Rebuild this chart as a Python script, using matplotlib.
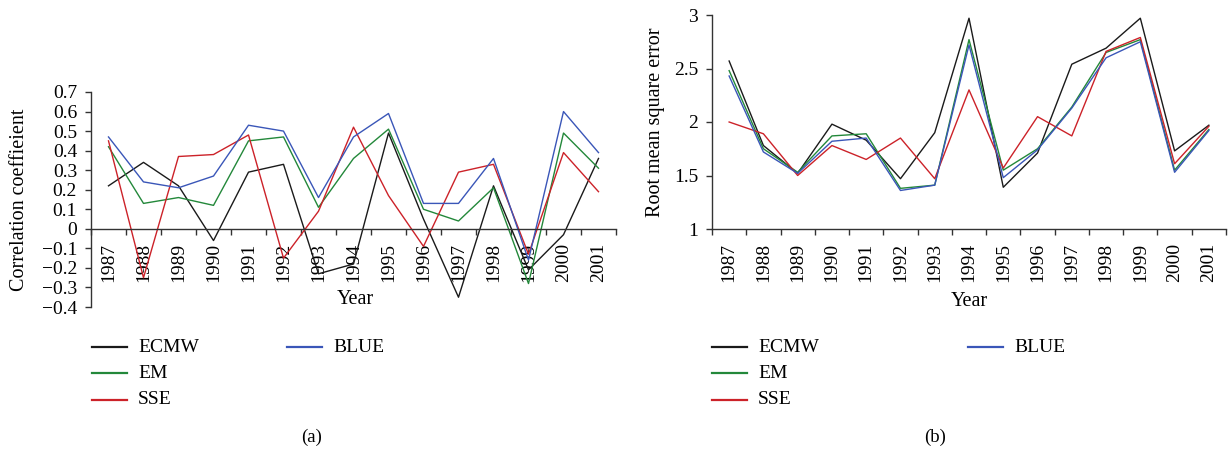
import matplotlib
matplotlib.use("Agg")
import matplotlib.pyplot as plt
from matplotlib.lines import Line2D
import numpy as np

plt.rcParams['font.family'] = ['Liberation Serif', 'DejaVu Serif']

years = [str(y) for y in range(1987, 2002)]
series_names = ["ECMW", "EM", "SSE", "BLUE"]
colors = {"ECMW": "#1a1a1a", "EM": "#23883a", "SSE": "#cc2229", "BLUE": "#3a56b8"}

# (a) Correlation coefficient
corr_ecmw = [0.22, 0.34, 0.22, -0.06, 0.29, 0.33, -0.23, -0.18, 0.49, 0.05, -0.35, 0.22, -0.21, -0.03, 0.36]
corr_em   = [0.42, 0.13, 0.16, 0.12, 0.45, 0.47, 0.11, 0.36, 0.51, 0.10, 0.04, 0.21, -0.28, 0.49, 0.31]
corr_sse  = [0.45, -0.25, 0.37, 0.38, 0.48, -0.15, 0.09, 0.52, 0.17, -0.09, 0.29, 0.33, -0.13, 0.39, 0.19]
corr_blue = [0.47, 0.24, 0.21, 0.27, 0.53, 0.50, 0.16, 0.47, 0.59, 0.13, 0.13, 0.36, -0.16, 0.60, 0.39]

# (b) Root mean square error
rmse_ecmw = [2.57, 1.78, 1.52, 1.98, 1.83, 1.47, 1.90, 2.97, 1.39, 1.71, 2.54, 2.69, 2.97, 1.73, 1.97]
rmse_em   = [2.48, 1.75, 1.53, 1.87, 1.89, 1.38, 1.41, 2.77, 1.55, 1.75, 2.14, 2.65, 2.77, 1.55, 1.93]
rmse_sse  = [2.00, 1.89, 1.50, 1.78, 1.65, 1.85, 1.47, 2.30, 1.57, 2.05, 1.87, 2.66, 2.79, 1.61, 1.96]
rmse_blue = [2.43, 1.72, 1.52, 1.82, 1.85, 1.36, 1.41, 2.72, 1.48, 1.74, 2.13, 2.60, 2.75, 1.53, 1.92]

corr = {"ECMW": corr_ecmw, "EM": corr_em, "SSE": corr_sse, "BLUE": corr_blue}
rmse = {"ECMW": rmse_ecmw, "EM": rmse_em, "SSE": rmse_sse, "BLUE": rmse_blue}

W, H = 1228, 449
fig = plt.figure(figsize=(W / 100, H / 100), dpi=100)

def fx(px):
    return px / W

def fy(py):
    return 1 - py / H

ax1 = fig.add_axes([fx(91), fy(307), fx(616) - fx(91), fy(92) - fy(307)])
ax2 = fig.add_axes([fx(712), fy(229), fx(1226) - fx(712), fy(15) - fy(229)])

TICK_FS = 14
LAB_FS = 14.5

def fmt(v):
    if abs(v) < 1e-9:
        return "0"
    s = ("%g" % round(v, 2))
    return s.replace("-", "\u2212")

x = np.arange(len(years))
for ax, data, ylim, yticks, base in [
    (ax1, corr, (-0.4, 0.7), np.round(np.arange(-0.4, 0.71, 0.1), 1), 0.0),
    (ax2, rmse, (1, 3), [1, 1.5, 2, 2.5, 3], 1.0),
]:
    for name in ["ECMW", "EM", "SSE", "BLUE"]:
        ax.plot(x, data[name], color=colors[name], lw=1.0, label=name)
    ax.set_xlim(-0.5, len(years) - 0.5)
    ax.set_ylim(*ylim)
    for s in ["top", "right"]:
        ax.spines[s].set_visible(False)
    ax.spines["bottom"].set_position(("data", base))
    for s in ["left", "bottom"]:
        ax.spines[s].set_color("#333333")
        ax.spines[s].set_linewidth(1.0)
    ax.set_xticks(np.arange(-0.5, len(years), 1.0))
    ax.set_xticklabels([])
    ax.set_xticks(x, minor=True)
    ax.set_xticklabels(years, minor=True, rotation=90, fontsize=TICK_FS)
    ax.tick_params(axis="x", which="major", direction="out", length=4, width=1.0, color="#333333")
    ax.tick_params(axis="x", which="minor", length=0, pad=10)
    ax.set_yticks(yticks)
    ax.set_yticklabels([fmt(v) for v in yticks], fontsize=TICK_FS)
    ax.tick_params(axis="y", direction="out", length=4, width=1.0, color="#333333", pad=6)

ax1.set_ylabel("Correlation coeffieient", fontsize=LAB_FS)
ax1.yaxis.set_label_coords((29 - 91) / 525, 0.5)
ax2.set_ylabel("Root mean square error", fontsize=LAB_FS)
ax2.yaxis.set_label_coords((665 - 712) / 514, 0.5)

fig.text(fx(355), fy(299), "Year", ha="center", va="center", fontsize=LAB_FS)
fig.text(fx(969), fy(301), "Year", ha="center", va="center", fontsize=LAB_FS)

def legend_entry(x0, y0, name):
    fig.add_artist(Line2D([fx(x0), fx(x0 + 35)], [fy(y0), fy(y0)], color=colors[name], lw=1.6,
                          transform=fig.transFigure))
    fig.text(fx(x0 + 46), fy(y0), name, ha="left", va="center", fontsize=14)

for x0, xb in [(92, 287), (712, 968)]:
    legend_entry(x0, 347, "ECMW")
    legend_entry(x0, 373, "EM")
    legend_entry(x0, 400, "SSE")
    legend_entry(xb, 347, "BLUE")

fig.text(fx(312), fy(437), "(a)", ha="center", va="center", fontsize=13.5)
fig.text(fx(935), fy(437), "(b)", ha="center", va="center", fontsize=13.5)

fig.savefig("out.png", dpi=100)
